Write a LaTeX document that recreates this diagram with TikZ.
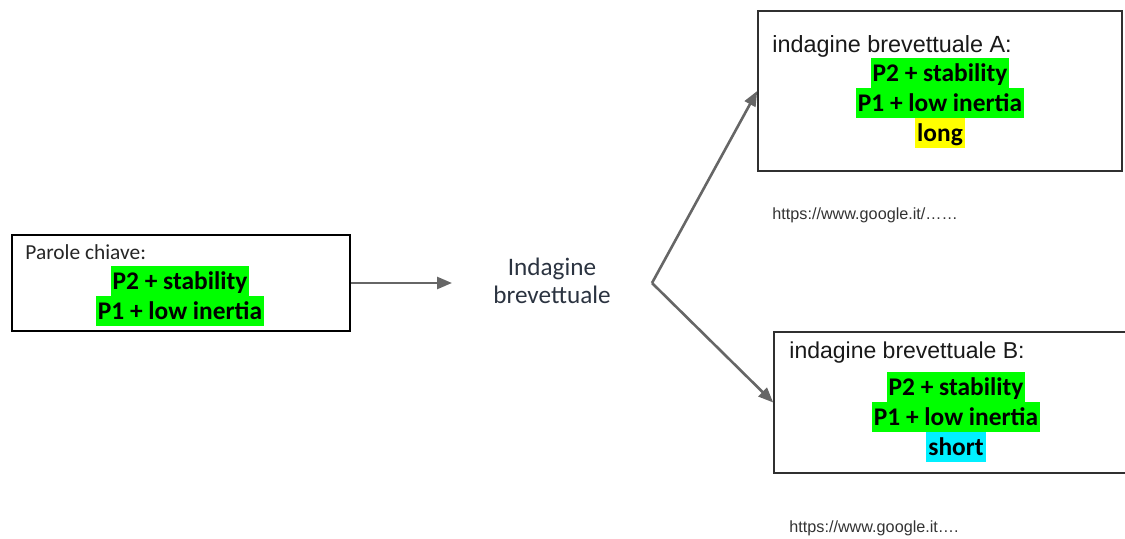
\documentclass[tikz,border=0pt]{standalone}
\usepackage{fontspec}
\setmainfont{Carlito}
\newfontfamily\arialf{Liberation Sans}
\usetikzlibrary{arrows.meta}
\definecolor{hlgreen}{HTML}{00FF00}
\definecolor{hlyellow}{HTML}{FFFF00}
\definecolor{hlcyan}{HTML}{00F0FF}
\definecolor{boxline}{HTML}{303030}
\definecolor{arrowgray}{HTML}{666666}
\definecolor{midtext}{HTML}{2B3340}
\definecolor{urltext}{HTML}{333333}
\setlength{\fboxsep}{0pt}
\newcommand{\hlt}[2]{\colorbox{#1}{\rule[-3.3pt]{0pt}{15pt}\hspace{1pt}#2\hspace{1pt}}}
\tikzset{
  framebox/.style={draw=boxline, line width=0.8pt, inner sep=0pt},
  headtext/.style={inner sep=0pt, anchor=base west},
  keytext/.style={inner sep=0pt, align=center, font=\bfseries\fontsize{12.7}{15}\selectfont, text=black},
  urlnote/.style={inner sep=0pt, anchor=base west, font=\arialf\fontsize{8.1}{10}\selectfont, text=urltext},
  connector/.style={draw=arrowgray, line width=1.3pt, -{Triangle[length=7.5pt,width=6pt]}}
}
\begin{document}
\begin{tikzpicture}[x=0.5pt,y=-0.5pt]
\useasboundingbox (0,0) rectangle (1125,539);
% boxes
\node[framebox, draw=black, line width=1pt, minimum width=169pt, minimum height=48pt] (left) at (181,283) {};
\node[framebox, minimum width=182pt, minimum height=80pt] (boxA) at (940,91) {};
\node[framebox, minimum width=176.5pt, minimum height=70.5pt] (boxB) at (950.5,402.5) {};
% left box text
\node[headtext, font=\fontsize{10.7}{13}\selectfont, text=black!85] (lhead) at (25,260) {Parole chiave:};
\node[keytext] (lkeys) at (180,296.5) {\hlt{hlgreen}{P2 + stability}\\\hlt{hlgreen}{P1 + low inertia}};
% middle text
\node[inner sep=0pt, align=center, font=\fontsize{12.6}{14}\selectfont, text=midtext] (mid) at (552,281) {Indagine\\brevettuale};
% box A text
\node[headtext, font=\arialf\fontsize{11.7}{14}\selectfont, text=black!90] (ahead) at (772,53) {indagine brevettuale A:};
\node[keytext] (akeys) at (940,103) {\hlt{hlgreen}{P2 + stability}\\\hlt{hlgreen}{P1 + low inertia}\\\hlt{hlyellow}{long}};
% box B text
\node[headtext, font=\arialf\fontsize{11.5}{14}\selectfont, text=black!90] (bhead) at (789,359) {indagine brevettuale B:};
\node[keytext] (bkeys) at (956,416.7) {\hlt{hlgreen}{P2 + stability}\\\hlt{hlgreen}{P1 + low inertia}\\\hlt{hlcyan}{short}};
% urls
\node[urlnote] (urlA) at (772,220) {https://www.google.it/……};
\node[urlnote] (urlB) at (789,532) {https://www.google.it….};
% connectors
\coordinate (a1end) at (452,283);
\coordinate (split) at (652,283);
\draw[connector] (left.east) -- (a1end);
\draw[connector] (split) -- (boxA.west);
\draw[connector] (split) -- (boxB.west);
\end{tikzpicture}
\end{document}
